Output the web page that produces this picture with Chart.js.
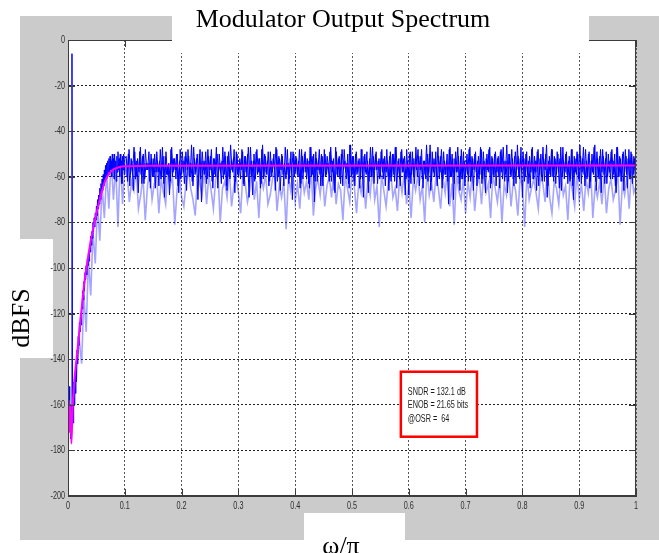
<!DOCTYPE html>
<html lang="en">
<head>
<meta charset="UTF-8">
<title>Modulator Output Spectrum</title>
<script src="https://cdn.jsdelivr.net/npm/chart.js"></script>
<style>
    html, body { margin: 0; padding: 0; background: #fff; }
    .chart-box { width: 659px; height: 553px; }
</style>
</head>
<body>
<div class="chart-box"><canvas id="spectrumChart" width="659" height="553"></canvas></div>
<script>
    // x-axis ticks (normalised frequency w/pi) and y-axis ticks (dBFS)
    const xTicks = [0, 0.1, 0.2, 0.3, 0.4, 0.5, 0.6, 0.7, 0.8, 0.9, 1];
    const yTicks = [0, -20, -40, -60, -80, -100, -120, -140, -160, -180, -200];

    // spectrum below 0.1, one value every 0.001 (tone at 0.007)
    const lowStep = 0.001;
    const lowDb = [-158,-165,-152,-170,-160,-175,-162,-6,-158,-168,
        -150,-160,-146,-155,-142,-150,-136,-142,-130,-134,
        -124,-128,-120,-125,-116,-118,-110,-114,-106,-110,
        -102,-105,-99,-103,-96,-99,-93,-97,-90,-93,
        -86,-90,-84,-87,-80,-84,-78,-82,-76,-79,
        -73,-77,-70,-74,-68,-72,-65,-70,-63,-67,
        -61,-66,-59,-64,-57,-62,-55,-61,-54,-60,
        -53,-58,-52,-59,-51,-57,-53,-60,-50,-57,
        -52,-61,-50,-56,-53,-62,-51,-58,-49,-57,
        -52,-60,-50,-55,-53,-63,-51,-57,-50,-59,-52];

    // spectrum from 0.1025 to 1, one value every 0.0025
    const highStart = 0.1025;
    const highStep = 0.0025;
    const highDb = [
        -51,-62,-48,-59,-53,-66,-49,-60,-52,-58,-47,-63,-50,-61,-54,-57,-49,-65,-52,-60,
        -50,-58,-53,-64,-48,-60,-51,-69,-49,-59,-54,-62,-47,-58,-52,-61,-50,-67,-48,-59,
        -53,-63,-49,-57,-51,-60,-46,-64,-52,-58,-50,-62,-48,-71,-53,-59,-49,-61,-51,-57,
        -48,-65,-52,-60,-50,-58,-54,-63,-47,-59,-51,-66,-49,-61,-53,-58,-48,-62,-50,-60,
        -52,-57,-49,-64,-51,-60,-47,-59,-53,-68,-50,-61,-48,-58,-52,-63,-46,-60,-51,-59,
        -49,-62,-53,-58,-50,-66,-48,-60,-52,-57,-51,-64,-47,-59,-54,-61,-49,-70,-50,-58,
        -52,-60,-48,-63,-51,-58,-49,-61,-53,-65,-47,-59,-50,-62,-52,-57,-48,-64,-51,-60,
        -50,-59,-54,-62,-47,-58,-52,-67,-49,-60,-51,-63,-48,-57,-53,-61,-50,-65,-46,-59,
        -51,-64,-49,-58,-52,-61,-48,-69,-50,-59,-53,-62,-47,-60,-51,-57,-49,-63,-52,-60,
        -48,-61,-51,-58,-53,-66,-49,-60,-50,-62,-47,-59,-52,-64,-48,-58,-51,-61,-53,-68,
        -49,-59,-52,-63,-47,-60,-51,-57,-48,-65,-53,-61,-50,-58,-46,-62,-52,-60,-49,-64,
        -51,-58,-48,-61,-53,-59,-50,-72,-47,-60,-52,-63,-49,-58,-51,-66,-48,-61,-53,-59,
        -50,-62,-47,-60,-52,-57,-49,-64,-51,-59,-48,-61,-53,-67,-50,-58,-47,-63,-52,-60,
        -49,-58,-51,-65,-48,-61,-53,-59,-46,-62,-50,-60,-52,-64,-49,-57,-51,-61,-47,-69,
        -52,-60,-49,-63,-51,-58,-47,-61,-53,-66,-48,-59,-50,-62,-52,-57,-46,-64,-51,-60,
        -48,-62,-52,-59,-50,-65,-47,-60,-53,-58,-49,-63,-51,-61,-48,-70,-52,-59,-50,-62,
        -51,-58,-47,-64,-53,-60,-49,-62,-50,-59,-46,-66,-52,-61,-48,-58,-51,-63,-49,-60,
        -53,-61,-48,-59,-50,-67,-47,-60,-52,-62,-49,-58,-51,-65,-48,-61,-50,-59,-52,-63];

    // in-between bins, one value every 0.0025 from 0.10375
    const midStart = 0.10375;
    const midDb = [
        -60,-50,-64,-52,-58,-47,-61,-53,-67,-49,-59,-51,-63,-48,-57,-54,-62,-50,-60,-52,
        -65,-49,-58,-53,-61,-47,-63,-51,-59,-55,-68,-48,-60,-52,-57,-50,-64,-53,-61,-49,
        -58,-51,-66,-48,-60,-54,-62,-47,-59,-52,-70,-50,-61,-49,-57,-53,-63,-48,-60,-51,
        -62,-52,-59,-47,-65,-50,-58,-53,-61,-49,-64,-51,-60,-46,-57,-52,-67,-49,-59,-54,
        -61,-48,-63,-51,-58,-50,-69,-47,-60,-53,-62,-49,-59,-52,-65,-48,-61,-50,-58,-53,
        -64,-49,-60,-52,-57,-47,-62,-51,-66,-50,-59,-54,-61,-48,-63,-52,-58,-49,-60,-51,
        -59,-53,-65,-48,-61,-50,-58,-52,-63,-47,-60,-51,-71,-49,-62,-53,-59,-50,-64,-48,
        -60,-51,-57,-49,-62,-53,-66,-47,-59,-52,-61,-50,-64,-48,-58,-54,-63,-46,-60,-51,
        -62,-50,-59,-53,-65,-48,-61,-51,-58,-49,-67,-52,-60,-47,-63,-50,-57,-53,-61,-49,
        -58,-52,-64,-48,-60,-51,-62,-50,-59,-47,-65,-53,-61,-49,-58,-52,-68,-48,-60,-50,
        -63,-49,-60,-52,-57,-48,-64,-51,-61,-53,-59,-46,-62,-50,-66,-49,-58,-52,-60,-47,
        -61,-51,-65,-49,-59,-53,-62,-48,-60,-50,-70,-52,-58,-47,-63,-51,-61,-49,-64,-53,
        -59,-48,-62,-51,-66,-50,-58,-53,-61,-47,-63,-49,-60,-52,-57,-48,-65,-51,-59,-50,
        -64,-52,-60,-49,-58,-47,-62,-53,-67,-50,-59,-48,-61,-51,-63,-46,-60,-52,-58,-49,
        -62,-50,-59,-53,-65,-48,-61,-51,-58,-49,-64,-52,-60,-47,-62,-50,-69,-53,-59,-48,
        -60,-51,-63,-49,-58,-52,-66,-47,-61,-50,-59,-53,-62,-48,-64,-51,-58,-49,-61,-46,
        -63,-52,-59,-48,-61,-50,-65,-53,-58,-47,-62,-49,-60,-51,-67,-48,-59,-52,-63,-50,
        -58,-49,-61,-53,-64,-47,-60,-51,-62,-50,-66,-48,-59,-52,-61,-49,-63,-51,-60,-47];

    // faint (light blue) excursions, one value every 0.004 from 0.012
    const lightStart = 0.012;
    const lightStep = 0.004;
    const lightDb = [
        -150,-140,-132,-142,-112,-128,-96,-112,-84,-98,-72,-88,-64,-78,-58,-74,-52,-70,-55,-82,-51,-72,-56,
        -58,-71,-62,-66,-56,-74,-68,-60,-79,-64,-57,-70,-63,-59,-76,
        -61,-67,-72,-55,-64,-60,-81,-66,-58,-69,-73,-62,-57,-65,-70,
        -77,-60,-63,-68,-56,-72,-59,-66,-74,-61,-58,-80,-65,-62,-69,
        -57,-73,-64,-60,-67,-76,-58,-63,-71,-66,-55,-70,-62,-78,-60,
        -65,-59,-72,-68,-61,-57,-75,-64,-69,-62,-83,-60,-66,-58,-71,
        -63,-74,-59,-67,-62,-70,-56,-77,-65,-61,-68,-58,-73,-64,-60,
        -69,-57,-72,-63,-66,-79,-60,-65,-71,-58,-64,-76,-62,-67,-59,
        -74,-61,-68,-56,-70,-64,-82,-59,-66,-73,-62,-57,-69,-65,-75,
        -60,-67,-58,-72,-63,-78,-61,-66,-59,-70,-64,-80,-57,-68,-62,
        -71,-59,-65,-74,-60,-67,-56,-73,-63,-81,-58,-66,-70,-61,-76,
        -62,-69,-57,-75,-64,-60,-72,-58,-67,-63,-78,-59,-65,-71,-61,
        -80,-63,-68,-58,-73,-62,-66,-77,-60,-64,-82,-59,-70,-65,-61,
        -67,-74,-59,-63,-71,-57,-69,-76,-62,-65,-72,-58,-68,-64,-79,
        -60,-66,-73,-58,-70,-63,-75,-61,-67,-56,-78,-64,-69,-62,-72,
        -59,-76,-65,-61,-70,-66,-58,-81,-63,-68,-60,-74,-57,-67,-64];

    // smoothed noise floor (magenta)
    const ntfX  = [0.001, 0.003, 0.004, 0.006, 0.008, 0.011, 0.015, 0.02, 0.025, 0.03, 0.035, 0.04, 0.045,
                   0.05, 0.055, 0.06, 0.065, 0.07, 0.075, 0.08, 0.09, 0.1, 0.15, 1.0];
    const ntfDb = [-158, -172, -160, -177, -162, -150, -140, -128, -115, -104, -96, -88, -82,
                   -76, -71, -66, -62, -59.5, -57.8, -56.7, -55.8, -55.4, -55.1, -55];

    const stats = ['SNDR = 132.1 dB', 'ENOB = 21.65 bits', '@OSR =  64'];

    const darkPoints = lowDb.map((v, i) => ({ x: i * lowStep, y: v }))
        .concat(highDb.map((v, i) => ({ x: highStart + i * highStep, y: v })));
    const midPoints = midDb.map((v, i) => ({ x: midStart + i * highStep, y: v }));
    const lightPoints = lightDb.map((v, i) => ({ x: lightStart + i * lightStep, y: v }));
    const ntfPoints = ntfX.map((x, i) => ({ x: x, y: ntfDb[i] }));

    // narrow sans text: Liberation Sans squeezed horizontally
    function narrowText(ctx, text, x, y, squeeze) {
        ctx.save();
        ctx.translate(x, y);
        ctx.scale(squeeze, 1);
        ctx.fillText(text, 0, 0);
        ctx.restore();
    }

    // gray MATLAB-style figure background, labels, box and annotation
    const framePlugin = {
        id: 'frame',
        beforeDraw(chart) {
            const ctx = chart.ctx, a = chart.chartArea;
            ctx.save();
            ctx.fillStyle = '#fff';
            ctx.fillRect(0, 0, chart.width, chart.height);
            ctx.fillStyle = '#cbcbcb';
            ctx.fillRect(20, 16, chart.width - 20, 524);
            ctx.fillStyle = '#fff';
            ctx.fillRect(a.left, a.top, a.right - a.left, a.bottom - a.top);
            ctx.fillRect(0, 239, 53, 119);
            ctx.fillRect(304, 513, 101, 40);
            ctx.restore();
        },
        afterDraw(chart) {
            const ctx = chart.ctx, a = chart.chartArea;
            const xs = chart.scales.x, ys = chart.scales.y;
            ctx.save();

            // solid axes box with inward ticks
            ctx.strokeStyle = '#3c3c3c';
            ctx.lineWidth = 1;
            ctx.strokeRect(a.left + 0.5, a.top + 0.5, a.right - a.left - 1, a.bottom - a.top - 1);
            ctx.beginPath();
            xTicks.forEach(v => {
                const px = Math.round(xs.getPixelForValue(v)) + 0.5;
                ctx.moveTo(px, a.bottom); ctx.lineTo(px, a.bottom - 7);
                ctx.moveTo(px, a.top); ctx.lineTo(px, a.top + 7);
            });
            yTicks.forEach(v => {
                const py = Math.round(ys.getPixelForValue(v)) + 0.5;
                ctx.moveTo(a.left, py); ctx.lineTo(a.left + 7, py);
                ctx.moveTo(a.right, py); ctx.lineTo(a.right - 7, py);
            });
            ctx.stroke();

            // tick labels
            ctx.fillStyle = '#2e2e2e';
            ctx.font = '11px "Liberation Sans", Arial, sans-serif';
            ctx.textBaseline = 'middle';
            ctx.textAlign = 'right';
            yTicks.forEach(v => narrowText(ctx, String(v), a.left - 3, ys.getPixelForValue(v), 0.66));
            ctx.textAlign = 'center';
            xTicks.forEach(v => narrowText(ctx, String(v), xs.getPixelForValue(v), a.bottom + 10, 0.66));

            // annotation box
            const bx = xs.getPixelForValue(0.586), bx2 = xs.getPixelForValue(0.72);
            const by = ys.getPixelForValue(-145.5), by2 = ys.getPixelForValue(-174);
            ctx.fillStyle = '#fff';
            ctx.fillRect(bx, by, bx2 - bx, by2 - by);
            ctx.strokeStyle = '#ff0000';
            ctx.lineWidth = 2.5;
            ctx.strokeRect(bx, by, bx2 - bx, by2 - by);
            ctx.fillStyle = '#1a1a1a';
            ctx.font = '11px "Liberation Sans", Arial, sans-serif';
            ctx.textAlign = 'left';
            ctx.textBaseline = 'alphabetic';
            stats.forEach((s, i) => narrowText(ctx, s, bx + 7, by + 23 + i * 13.5, 0.66));

            // title area
            ctx.fillStyle = '#fff';
            ctx.fillRect(172, 0, 417, 53);
            ctx.fillStyle = '#000';
            ctx.font = '26px "Liberation Serif", "DejaVu Serif", serif';
            ctx.textAlign = 'center';
            ctx.fillText('Modulator Output Spectrum', 343, 27);

            // axis titles
            ctx.fillText('\u03c9/\u03c0', 341, 554);
            ctx.translate(29, 318);
            ctx.rotate(-Math.PI / 2);
            ctx.fillText('dBFS', 0, 0);
            ctx.restore();
        }
    };

    new Chart(document.getElementById('spectrumChart').getContext('2d'), {
        type: 'line',
        data: {
            datasets: [
                { label: 'NTF', data: ntfPoints, borderColor: '#ff00ff', borderWidth: 2,
                  cubicInterpolationMode: 'monotone', pointRadius: 0, fill: false },
                { label: 'Spectrum', data: darkPoints, borderColor: '#0000ff', borderWidth: 1,
                  pointRadius: 0, fill: false },
                { label: 'Spectrum (mid bins)', data: midPoints, borderColor: '#0000ff', borderWidth: 1,
                  pointRadius: 0, fill: false },
                { label: 'Spectrum (faint)', data: lightPoints, borderColor: 'rgba(40, 40, 255, 0.42)',
                  borderWidth: 1.6, pointRadius: 0, fill: false }
            ]
        },
        options: {
            responsive: false,
            animation: false,
            layout: { padding: { left: 0, right: 23, top: 40, bottom: 0 } },
            plugins: { legend: { display: false }, tooltip: { enabled: false } },
            scales: {
                x: {
                    type: 'linear', min: 0, max: 1,
                    afterFit(scale) { scale.height = 57; },
                    afterBuildTicks(scale) { scale.ticks = xTicks.map(v => ({ value: v })); },
                    ticks: { display: false },
                    grid: { color: '#555', drawTicks: false },
                    border: { dash: [2, 2], color: '#3c3c3c' }
                },
                y: {
                    type: 'linear', min: -200, max: 0,
                    afterFit(scale) { scale.width = 68; },
                    afterBuildTicks(scale) { scale.ticks = yTicks.map(v => ({ value: v })); },
                    ticks: { display: false },
                    grid: { color: '#222', drawTicks: false },
                    border: { dash: [2, 2], color: '#3c3c3c' }
                }
            }
        },
        plugins: [framePlugin]
    });
</script>
</body>
</html>
